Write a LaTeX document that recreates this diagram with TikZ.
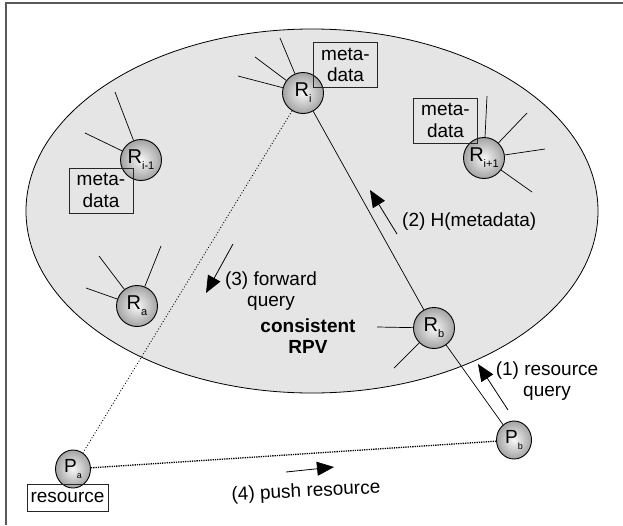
\documentclass[tikz,border=0pt]{standalone}
\usepackage{fontspec}
\setmainfont{Liberation Sans}
\usetikzlibrary{arrows.meta,shapes.geometric}
% name with a lowered, small index
\newcommand\idx[3][11]{#2\raisebox{-0.55ex}{\fontsize{#1}{#1}\selectfont #3}}
\begin{document}
\begin{tikzpicture}[x=1pt,y=-1pt,
  peer/.style={circle,draw=black,line width=0.9pt,minimum size=41pt,inner sep=0pt,
    shade,shading=radial,inner color=gray!6,outer color=gray!72,font=\fontsize{20}{20}\selectfont},
  client/.style={ellipse,draw=black,line width=0.9pt,minimum width=35pt,minimum height=38pt,inner sep=0pt,
    shade,shading=radial,inner color=gray!6,outer color=gray!72,font=\fontsize{19}{19}\selectfont},
  mdbox/.style={draw=black!85,line width=0.8pt,minimum width=64pt,minimum height=45pt,inner sep=0pt,
    align=center,font=\fontsize{19}{21.5}\selectfont},
  spoke/.style={line width=0.7pt},
  link/.style={line width=0.7pt},
  msg/.style={line width=0.8pt,-{Triangle[length=17pt,width=14pt]}},
  lbl/.style={font=\fontsize{19}{21.5}\selectfont,align=center,inner sep=0pt}
]
\useasboundingbox (0,0) rectangle (623,525);

% page frame (top and left edges)
\draw[line width=1.6pt,black!65] (6,525) -- (6,3) -- (623,3);

% the consistent RPV region
\draw[line width=0.8pt,fill=gray!20] (312,211) ellipse [x radius=286pt,y radius=182pt];
\node[font=\bfseries\fontsize{19}{21.5}\selectfont,align=center] (rpv) at (308,336) {consistent\\RPV};

% peers inside the region
\node[peer] (Ri)  at (303,93)  {\idx{R}{i}};
\node[peer] (Ri1) at (141,160) {\idx{R}{i-1}};
\node[peer] (Rj1) at (484,158) {\idx{R}{i+1}};
\node[peer] (Ra)  at (137,306) {\idx{R}{a}};
\node[peer] (Rb)  at (434,328) {\idx{R}{b}};

% peers outside the region
\node[client] (Pa) at (73,469)  {\idx[9]{P}{a}};
\node[client] (Pb) at (514,440) {\idx[9]{P}{b}};

% metadata and resource boxes
\node[mdbox] (mdi)  at (345.5,65)  {meta-\\data};
\node[mdbox] (mdi1) at (101,190.5) {meta-\\data};
\node[mdbox] (mdj1) at (445.5,120.5) {meta-\\data};
\node[draw=black!85,line width=0.8pt,minimum width=81pt,minimum height=27pt,inner sep=0pt,
  font=\fontsize{19}{19}\selectfont] (res) at (67.5,497.5) {resource};

% neighbour links (free ends)
\coordinate (si1) at (280,38);  \coordinate (si2) at (255,57);  \coordinate (si3) at (238,76);
\coordinate (sh1) at (115,92);  \coordinate (sh2) at (85,133);
\coordinate (sj1) at (487,96);  \coordinate (sj2) at (527,113); \coordinate (sj3) at (545,149); \coordinate (sj4) at (532,192);
\coordinate (sa1) at (99,256);  \coordinate (sa2) at (86,288);  \coordinate (sa3) at (161,246);
\coordinate (sb1) at (377,327); \coordinate (sb2) at (394,368);
\foreach \n/\e in {Ri/si1,Ri/si2,Ri/si3,Ri1/sh1,Ri1/sh2,Rj1/sj1,Rj1/sj2,Rj1/sj3,Rj1/sj4,Ra/sa1,Ra/sa2,Ra/sa3,Rb/sb1,Rb/sb2}
  \draw[spoke] (\n) -- (\e);

% routing paths
\draw[link] (Ri) -- (Rb);
\draw[link] (Rb) -- (Pb);
\draw[line width=0.9pt,dotted] (Ri) -- (Pa);
\draw[line width=1.3pt,densely dotted] (Pa) -- (Pb);

% message arrows
\coordinate (m1s) at (508,410); \coordinate (m1e) at (478,364);
\coordinate (m2s) at (397,234); \coordinate (m2e) at (370,190);
\coordinate (m3s) at (233,244); \coordinate (m3e) at (206,293);
\coordinate (m4s) at (286,472); \coordinate (m4e) at (334,467);
\draw[msg] (m1s) -- (m1e);
\draw[msg] (m2s) -- (m2e);
\draw[msg] (m3s) -- (m3e);
\draw[msg] (m4s) -- (m4e);

% message labels
\node[lbl] (l1) at (547,381) {(1) resource\\query};
\node[lbl,anchor=west] (l2) at (402,222) {(2) H(metadata)};
\node[lbl] (l3) at (271,291) {(3) forward\\query};
\node[lbl,rotate=3] (l4) at (306,492) {(4) push resource};
\end{tikzpicture}
\end{document}
